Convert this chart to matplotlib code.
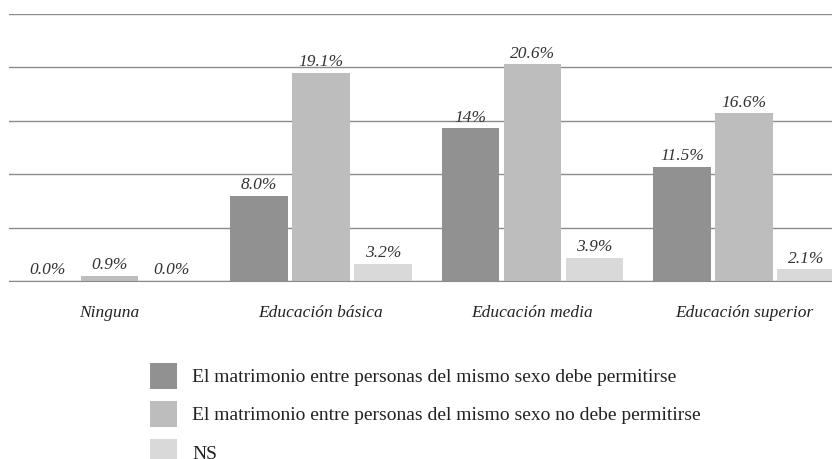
import numpy as np
import matplotlib.pyplot as plt
from matplotlib.patches import Patch

categories = ["Ninguna", "Educación básica", "Educación media", "Educación superior"]
series_names = [
    "El matrimonio entre personas del mismo sexo debe permitirse",
    "El matrimonio entre personas del mismo sexo no debe permitirse",
    "NS",
]
# bar heights as drawn in the picture (the printed labels differ a bit)
debe = [0.0, 8.0, 14.3, 10.7]
no_debe = [0.47, 19.5, 20.3, 15.7]
ns = [0.0, 1.6, 2.15, 1.1]
debe_labels = ["0.0%", "8.0%", "14%", "11.5%"]
no_debe_labels = ["0.9%", "19.1%", "20.6%", "16.6%"]
ns_labels = ["0.0%", "3.2%", "3.9%", "2.1%"]

colors = ["#919191", "#bdbdbd", "#d9d9d9"]
serif = ["Liberation Serif", "DejaVu Serif"]
plt.rcParams["font.family"] = serif

fig = plt.figure(figsize=(8.32, 4.59), dpi=100)
ax = fig.add_axes([9 / 832, 1 - 281 / 459, 1 - 9 / 832, (281 - 14) / 459])

x = np.arange(len(categories))
width = 0.27
step = 0.293
all_vals = [debe, no_debe, ns]
all_labels = [debe_labels, no_debe_labels, ns_labels]
for k in range(3):
    pos = x + (k - 1) * step
    ax.bar(pos, all_vals[k], width=width, color=colors[k], zorder=3)
    for p, v, lab in zip(pos, all_vals[k], all_labels[k]):
        ax.text(p, v + 1.0, lab, ha="center", va="center", style="italic",
                fontsize=12.5, color="#333333", zorder=4)

ax.set_ylim(0, 25)
ax.set_xlim(-0.475, 3.416)
ax.set_yticks(np.arange(0, 26, 5))
ax.yaxis.grid(True, color="#8a8a8a", linewidth=1.0, zorder=0)
ax.tick_params(axis="y", left=False, labelleft=False)
ax.tick_params(axis="x", length=0, pad=17.5)
ax.set_xticks(x)
ax.set_xticklabels(categories, style="italic", fontsize=12.5, color="#222222")
for s in ["top", "right", "left"]:
    ax.spines[s].set_visible(False)
ax.spines["bottom"].set_color("#8a8a8a")
ax.spines["bottom"].set_zorder(5)

handles = [Patch(facecolor=c, edgecolor="none") for c in colors]
fig.legend(handles, series_names, loc="upper left",
           bbox_to_anchor=(150 / 832, 1 - 363 / 459), frameon=False,
           borderpad=0, borderaxespad=0, handlelength=1.39, handleheight=1.685,
           handletextpad=0.77, labelspacing=0.62, fontsize=14,
           labelcolor="#222222")

fig.savefig("out.png", dpi=100)
